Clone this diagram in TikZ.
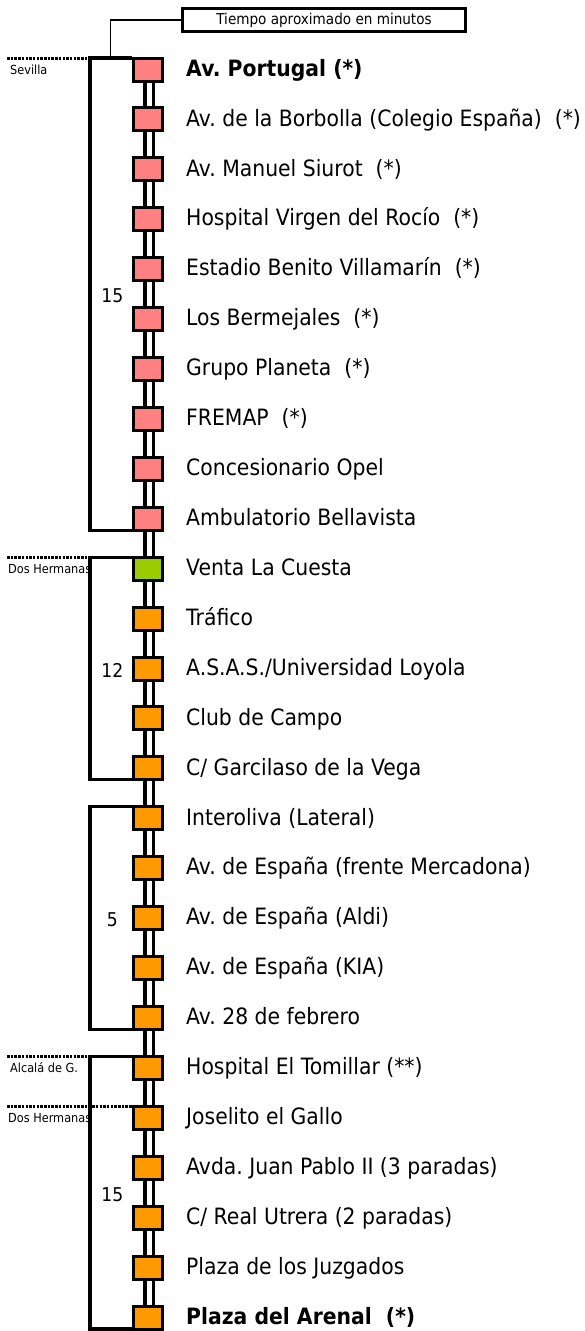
\documentclass[tikz,border=0pt]{standalone}
\usepackage{fontspec}
\setmainfont{DejaVu Sans}[FakeStretch=0.905]
\usetikzlibrary{calc}
\frenchspacing
\definecolor{pinkst}{HTML}{FF8080}
\definecolor{greenst}{HTML}{99CC00}
\definecolor{orangest}{HTML}{FF9900}
\tikzset{
  stopbox/.style={draw=black, line width=3pt, minimum width=28.5pt, minimum height=23pt, inner sep=0pt, outer sep=1.5pt},
  barline/.style={draw=black, line width=3.3pt, double=white, double distance=5pt},
  brk/.style={draw=black, line width=3.2pt, line join=miter},
  dots/.style={draw=black, line width=3pt, dash pattern=on 2.5pt off 1.2pt},
  lab/.style={anchor=base west, inner sep=0pt, font=\fontsize{22.5pt}{25pt}\selectfont},
  num/.style={inner sep=0pt, font=\fontsize{19pt}{22pt}\selectfont},
  zone/.style={anchor=base west, inner sep=0pt, font=\fontsize{12.5pt}{14pt}\selectfont},
  tbox/.style={draw=black, line width=3pt, minimum width=283pt, minimum height=22.4pt, inner sep=0pt, font=\fontsize{15pt}{17pt}\selectfont},
  lead/.style={draw=black, line width=1.2pt}
}
\newcommand\stoplabel[3]{\node[lab,#3] (l#1) at ([yshift=-6.7pt]s#1.center -| tx) {#2};}
\newcommand\bracketgrp[2]{\draw[brk] ($(s#1.north west)+(0,1.5)$) -- ($(s#1.north west -| bx)+(0,1.5)$) -- ($(s#2.south west -| bx)+(0,-1.5)$) -- ($(s#2.south west)+(0,-1.5)$);}
\begin{document}
\begin{tikzpicture}[x=1pt,y=-1pt]
\path[use as bounding box] (0,0) rectangle (585,1331);
\coordinate (bx) at (90,0);
\coordinate (tx) at (186,0);
\coordinate (nx) at (112.4,0);
\coordinate (dl) at (7,0);
\coordinate (zl) at (10,0);
\coordinate (zl2) at (8,0);
\coordinate (lx) at (110.7,0);
% stops
\foreach \i/\c in {0/pinkst,1/pinkst,2/pinkst,3/pinkst,4/pinkst,5/pinkst,6/pinkst,7/pinkst,8/pinkst,9/pinkst,
  10/greenst,11/orangest,12/orangest,13/orangest,14/orangest,15/orangest,16/orangest,17/orangest,18/orangest,19/orangest,
  20/orangest,21/orangest,22/orangest,23/orangest,24/orangest,25/orangest}
  \node[stopbox, fill=\c] (s\i) at (148,{69.5+49.92*\i}) {};
% connecting bars
\foreach \i [evaluate=\i as \j using int(\i+1)] in {0,...,24}
  \draw[barline] ([xshift=1pt]s\i.south) -- ([xshift=1pt]s\j.north);
% labels
\stoplabel{0}{Av. Portugal (*)}{font=\fontsize{22.5pt}{25pt}\selectfont\bfseries}
\stoplabel{1}{Av. de la Borbolla (Colegio España)\ \ (*)}{}
\stoplabel{2}{Av. Manuel Siurot\ \ (*)}{}
\stoplabel{3}{Hospital Virgen del Rocío\ \ (*)}{}
\stoplabel{4}{Estadio Benito Villamarín\ \ (*)}{}
\stoplabel{5}{Los Bermejales\ \ (*)}{}
\stoplabel{6}{Grupo Planeta\ \ (*)}{}
\stoplabel{7}{FREMAP\ \ (*)}{}
\stoplabel{8}{Concesionario Opel}{}
\stoplabel{9}{Ambulatorio Bellavista}{}
\stoplabel{10}{Venta La Cuesta}{}
\stoplabel{11}{Tráfico}{}
\stoplabel{12}{A.S.A.S./Universidad Loyola}{}
\stoplabel{13}{Club de Campo}{}
\stoplabel{14}{C/ Garcilaso de la Vega}{}
\stoplabel{15}{Interoliva (Lateral)}{}
\stoplabel{16}{Av. de España (frente Mercadona)}{}
\stoplabel{17}{Av. de España (Aldi)}{}
\stoplabel{18}{Av. de España (KIA)}{}
\stoplabel{19}{Av. 28 de febrero}{}
\stoplabel{20}{Hospital El Tomillar (**)}{}
\stoplabel{21}{Joselito el Gallo}{}
\stoplabel{22}{Avda. Juan Pablo II (3 paradas)}{}
\stoplabel{23}{C/ Real Utrera (2 paradas)}{}
\stoplabel{24}{Plaza de los Juzgados}{}
\stoplabel{25}{Plaza del Arenal\ \ (*)}{font=\fontsize{22.5pt}{25pt}\selectfont\bfseries}
% zone labels
\node[zone] (z1) at ($(s0.center -| zl)+(0,4.5)$) {Sevilla};
\node[zone] (z2) at ($(s10.center -| zl2)+(0,4.5)$) {Dos Hermanas};
\node[zone] (z3) at ($(s20.center -| zl)+(0,4.5)$) {Alcalá de G.};
\node[zone] (z4) at ($(s21.center -| zl2)+(0,4.5)$) {Dos Hermanas};
% dotted boundaries
\draw[dots] ($(s0.north west -| dl)+(0,1.5)$) -- ($(s0.north west -| bx)+(0,1.5)$);
\draw[dots] ($(s10.north west -| dl)+(0,1.5)$) -- ($(s10.north west -| bx)+(0,1.5)$);
\draw[dots] ($(s20.north west -| dl)+(0,1.5)$) -- ($(s20.north west -| bx)+(0,1.5)$);
\draw[dots] ($(s21.north west -| dl)+(0,1.5)$) -- ($(s21.north west)+(0,1.5)$);
% brackets
\bracketgrp{0}{9}
\bracketgrp{10}{14}
\bracketgrp{15}{19}
\bracketgrp{20}{25}
% times
\node[num] (n1) at ($(s0.north -| nx)!0.5!(s9.south -| nx)+(0,1.5)$) {15};
\node[num] (n2) at ($(s10.north -| nx)!0.5!(s14.south -| nx)+(0,1.5)$) {12};
\node[num] (n3) at ($(s15.north -| nx)!0.5!(s19.south -| nx)+(0,1.5)$) {5};
\node[num] (n4) at ($(s20.north -| nx)!0.5!(s25.south -| nx)+(0,1.5)$) {15};
% legend box
\node[tbox] (box) at (324,20) {Tiempo aproximado en minutos};
\draw[lead] (box.west) -| ($(s0.north west -| lx)+(0,1.5)$);
\end{tikzpicture}
\end{document}
